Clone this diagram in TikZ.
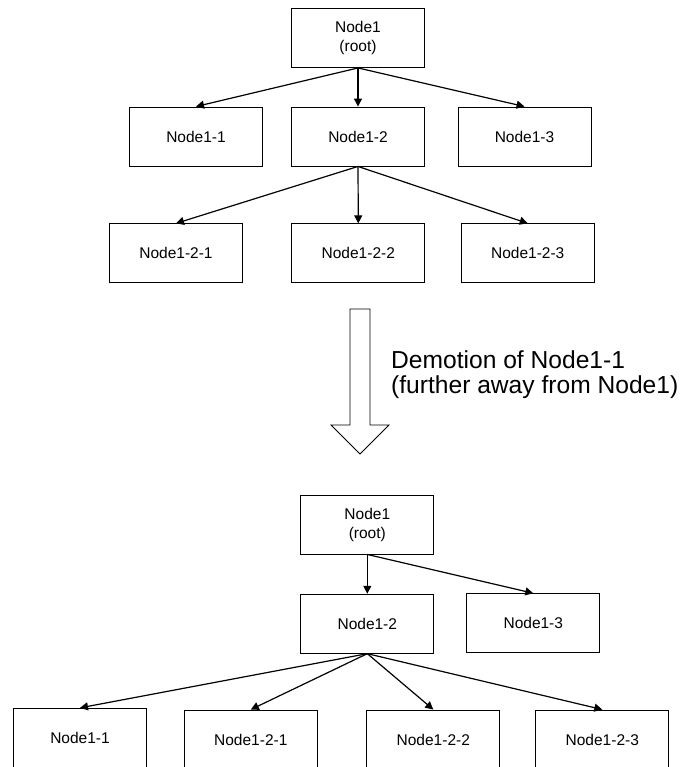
\documentclass[tikz,border=0pt]{standalone}
\usepackage{fontspec}
\setmainfont{Liberation Sans}
\usetikzlibrary{arrows.meta}
\begin{document}
\begin{tikzpicture}[x=1pt,y=-1pt,
  box/.style={draw,line width=0.9pt,minimum width=133pt,minimum height=59pt,
    inner sep=0pt,align=center,font=\fontsize{15.5}{19}\selectfont},
  link/.style={line width=1.2pt,-{Triangle[length=8pt,width=8pt]}},
  bigarrow/.style={draw,line width=0.9pt,fill=white},
]
\useasboundingbox (0,0) rectangle (685,767);

% tree before the demotion
\node[box] (r1)   at (358,38)    {Node1\\(root)};
\node[box] (a11)  at (196,136.5) {Node1-1};
\node[box] (a12)  at (358,136.5) {Node1-2};
\node[box] (a13)  at (524.5,136.5) {Node1-3};
\node[box] (a121) at (176,253.3) {Node1-2-1};
\node[box] (a122) at (358.3,253.3) {Node1-2-2};
\node[box] (a123) at (527.7,253.3) {Node1-2-3};

\draw[link] (r1.south) -- (a11.north);
\draw[link] (r1.south) -- (a12.north);
\draw[link] (r1.south) -- (a13.north);
\draw[link] (a12.south) -- (a121.north);
\draw[link] (a12.south) -- (a122.north);
\draw[link] (a12.south) -- (a123.north);

% transition arrow and its caption (base anchor sits on the last line)
\draw[bigarrow] (350,309) -- (370,309) -- (370,425) -- (389,425) -- (360,454)
  -- (331,425) -- (350,425) -- cycle;
\node[anchor=base west,inner sep=0pt,align=left,
  font=\fontsize{24.6}{25}\selectfont] (cap) at (391,393)
  {Demotion of Node1-1\\(further away from Node1)};

% tree after the demotion
\node[box] (r2)   at (367.3,524.5) {Node1\\(root)};
\node[box] (b12)  at (367.3,623.7) {Node1-2};
\node[box] (b13)  at (533.3,623.2) {Node1-3};
\node[box] (b11)  at (80,737.8)    {Node1-1};
\node[box] (b121) at (250.8,739.5) {Node1-2-1};
\node[box] (b122) at (433.3,739.5) {Node1-2-2};
\node[box] (b123) at (602.3,739.5) {Node1-2-3};

\draw[link] (r2.south) -- (b12.north);
\draw[link] (r2.south) -- (b13.north);
\draw[link] (b12.south) -- (b11.north);
\draw[link] (b12.south) -- (b121.north);
\draw[link] (b12.south) -- (b122.north);
\draw[link] (b12.south) -- (b123.north);
\end{tikzpicture}
\end{document}
